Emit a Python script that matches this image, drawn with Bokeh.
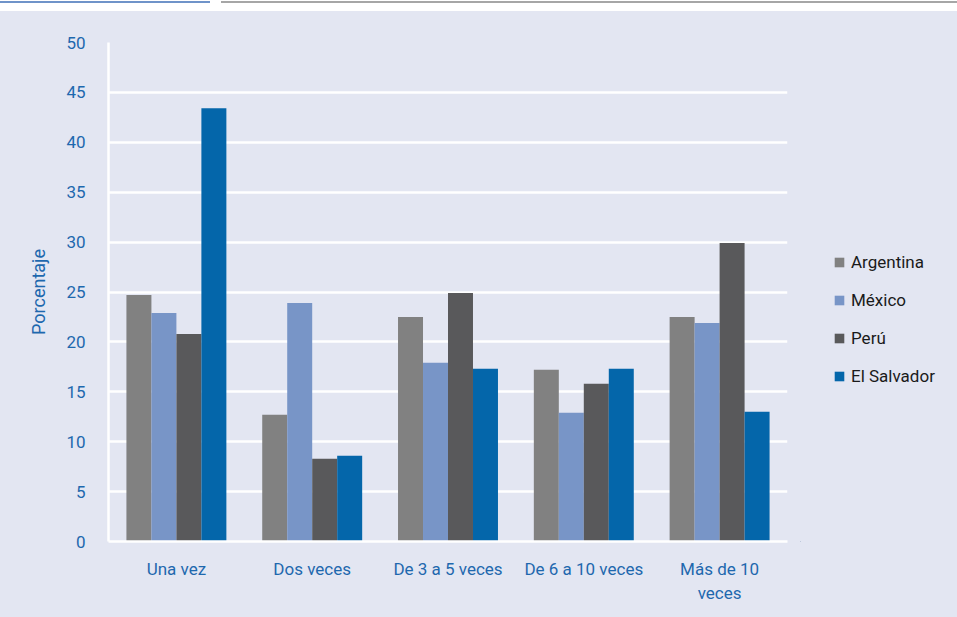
from bokeh.plotting import figure
from bokeh.models import FactorRange, Range1d, FixedTicker, Legend, LegendItem, ColumnDataSource, Div
from bokeh.layouts import column, row
from bokeh.transform import dodge
from bokeh.embed import file_html
from bokeh.resources import INLINE

categories = ["Una vez", "Dos veces", "De 3 a 5 veces", "De 6 a 10 veces", "Más de 10\nveces"]
series = ["Argentina", "México", "Perú", "El Salvador"]
argentina = [24.7, 12.7, 22.5, 17.2, 22.5]
mexico = [22.9, 23.9, 17.9, 12.9, 21.9]
peru = [20.8, 8.3, 24.9, 15.8, 29.9]
el_salvador = [43.4, 8.6, 17.3, 17.3, 13.0]
y_ticks = [0, 5, 10, 15, 20, 25, 30, 35, 40, 45, 50]

colors = ["#818181", "#7895C7", "#59595B", "#0466AA"]
BG = "#E3E6F2"
BLUE = "#1E68AE"
FONT = "Roboto"

src = ColumnDataSource(dict(cat=categories, Argentina=argentina, México=mexico,
                            Perú=peru, ElSalvador=el_salvador))
cols = ["Argentina", "México", "Perú", "ElSalvador"]

p = figure(width=800, height=606, x_range=FactorRange(*categories, range_padding=0),
           y_range=Range1d(0, 50), output_backend="svg", toolbar_location=None,
           min_border_left=108, min_border_right=13, min_border_top=31, min_border_bottom=76)
p.background_fill_color = BG
p.border_fill_color = BG
p.outline_line_color = None

bw = 0.184
offsets = [-1.5 * bw, -0.5 * bw, 0.5 * bw, 1.5 * bw]
for col, off, c in zip(cols, offsets, colors):
    p.vbar(x=dodge("cat", off, range=p.x_range), top=col, width=bw, source=src,
           fill_color=c, line_color=None)

p.xgrid.grid_line_color = None
p.ygrid.grid_line_color = "white"
p.ygrid.grid_line_width = 2.5
p.ygrid.ticker = FixedTicker(ticks=y_ticks)

p.yaxis.ticker = FixedTicker(ticks=y_ticks)
p.yaxis.axis_label = "Porcentaje"
p.yaxis.axis_label_text_font = FONT
p.yaxis.axis_label_text_font_style = "normal"
p.yaxis.axis_label_text_font_size = "18px"
p.yaxis.axis_label_text_color = BLUE
p.yaxis.axis_label_standoff = 14
for ax in (p.xaxis, p.yaxis):
    ax.axis_line_color = "white"
    ax.axis_line_width = 2.5
    ax.major_tick_line_color = None
    ax.minor_tick_line_color = None
    ax.major_label_text_font = FONT
    ax.major_label_text_font_size = "17px"
    ax.major_label_text_color = BLUE
p.yaxis.major_label_standoff = 17
p.xaxis.major_label_standoff = 11

# legend panel
q = figure(width=157, height=606, x_range=Range1d(0, 1), y_range=Range1d(0, 1),
           output_backend="svg", toolbar_location=None,
           min_border_left=0, min_border_right=0, min_border_top=0, min_border_bottom=0)
q.axis.visible = False
q.grid.visible = False
q.background_fill_color = BG
q.border_fill_color = BG
q.outline_line_color = None
items = []
for name, c in zip(series, colors):
    r = q.vbar(x=[-5], top=[-5], width=0.1, fill_color=c, line_color=None)
    items.append(LegendItem(label=name, renderers=[r]))

legend = Legend(items=items, location=(33, 155), padding=0, margin=0,
                glyph_width=12, glyph_height=12, label_height=20, spacing=18,
                label_standoff=6, border_line_color=None, background_fill_alpha=0)
legend.label_text_font = FONT
legend.label_text_font_size = "17px"
legend.label_text_color = "#1A1A1A"
q.add_layout(legend, "center")

top = Div(width=957, height=11, margin=0,
          text='<div style="position:relative;width:957px;height:11px;background:white">'
               '<div style="position:absolute;left:0;top:0;width:210px;height:2px;background:#6F93C9"></div>'
               '<div style="position:absolute;left:221px;top:0;width:736px;height:2px;background:#A6A6A6"></div>'
               '</div>')

layout = column(top, row(p, q, spacing=0, styles={"background-color": BG}), spacing=0)
open("out.html", "w").write(file_html(layout, INLINE))
